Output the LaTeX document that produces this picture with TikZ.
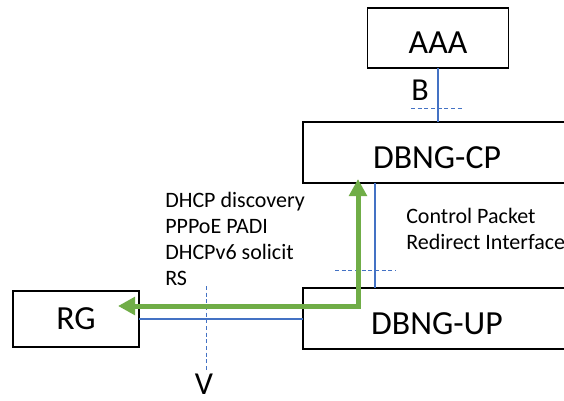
\documentclass[tikz,border=0pt]{standalone}
\usepackage{fontspec}
\setmainfont{Carlito}
\usetikzlibrary{arrows.meta}
\definecolor{linkblue}{HTML}{4472C4}
\definecolor{flowgreen}{HTML}{70AD47}
\begin{document}
\begin{tikzpicture}[x=0.75pt,y=-0.75pt,
  box/.style={draw=black,line width=1.2pt,inner sep=0pt,outer sep=0pt,
    font=\fontsize{25.3}{30}\selectfont},
  lowtext/.style={text height=23.8pt,text depth=0pt},
  link/.style={draw=linkblue,line width=0.8pt},
  ref/.style={draw=linkblue,line width=0.75pt,dash pattern=on 3pt off 2pt},
  flow/.style={draw=flowgreen,line width=3.75pt,miter limit=10,
    {Triangle[length=12.75pt,width=13pt]}-{Triangle[length=12.75pt,width=13pt]}},
  small/.style={font=\fontsize{16.5}{19.5}\selectfont,inner sep=0pt},
  refl/.style={font=\fontsize{24}{28}\selectfont,inner sep=0pt,anchor=base}
]
\useasboundingbox (0,0) rectangle (564,400);
\fill[white] (0,0) rectangle (564,400);
\clip (0,0) rectangle (564,400);

% boxes
\node[box,lowtext,minimum width=105.75pt,minimum height=45pt] (AAA) at (438,38) {AAA};
\node[box,lowtext,minimum width=201pt,minimum height=45.75pt] (CP) at (437,152.5) {DBNG-CP};
\node[box,lowtext,minimum width=201pt,minimum height=45.75pt] (UP) at (437,318.5) {DBNG-UP};
\node[box,minimum width=94.5pt,minimum height=42pt] (RG) at (76,319) {RG};

% AAA -- CP interface B
\draw[link] (AAA.south) -- (AAA.south |- CP.north);
\node[refl] (Blab) at (420,100) {B};
\coordinate (bl) at (411,108);
\coordinate (br) at (462,108);
\draw[ref] (bl) -- (br);

% CP -- UP control packet redirect interface
\coordinate (cpu) at (375,183);
\draw[link] (cpu) -- (cpu |- UP.north);
\coordinate (cl) at (335,270);
\coordinate (cr) at (396,270);
\draw[ref] (cl) -- (cr);
\node[small,anchor=base west,align=left] (cpri) at (406,249)
  {Control Packet\\Redirect Interface};

% RG -- UP interface V
\draw[link] (RG.east) -- (RG.east -| UP.west);
\coordinate (vt) at (206,286);
\coordinate (vb) at (206,370);
\draw[ref] (vt) -- (vb);
\node[refl] (Vlab) at (204,394) {V};

% messages
\node[small,anchor=base west,align=left] (msgs) at (165,285)
  {DHCP discovery\\PPPoE PADI\\DHCPv6 solicit\\RS};

% green flow
\coordinate (tipcp) at (358,179);
\coordinate (corner) at (358,306);
\coordinate (tiprg) at (118,306);
\draw[flow] (tipcp) -- (corner) -- (tiprg);
\end{tikzpicture}
\end{document}
